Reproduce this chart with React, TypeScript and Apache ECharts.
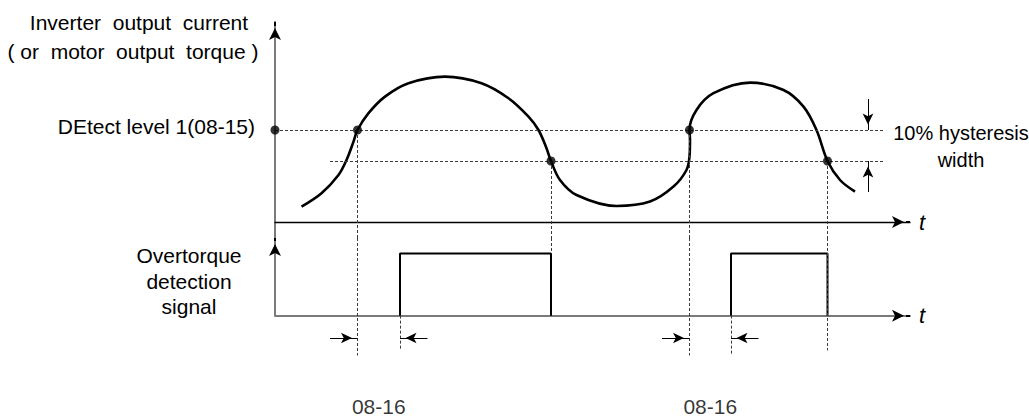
import React, { useEffect, useRef } from "react";
import * as echarts from "echarts";

// ---- axis ranges ----
const T_MAX = 12.7;
const CURRENT_MIN = -8;
const CURRENT_MAX = 100;
const SIGNAL_MIN = -1.6;
const SIGNAL_MAX = 1.25;

// ---- output current (or torque) curve ----
const curveT = [0.53, 0.93, 1.27, 1.43, 1.57, 1.65, 1.87, 2.2, 2.67, 3.4, 4.13, 4.67, 5.07, 5.27, 5.43, 5.52, 5.7, 6.03, 6.83, 7.5, 7.97, 8.23, 8.29, 8.3, 8.29, 8.43, 8.77, 9.5, 10.17, 10.57, 10.83, 11.05, 11.3, 11.6];
const curveI = [7.7, 14.4, 23.5, 31, 40.2, 46, 54.4, 62.7, 69.4, 72.7, 69.4, 61.9, 52.7, 46, 36.9, 30.5, 21, 13.5, 8, 10.2, 17.7, 26, 32.7, 41, 46, 56, 64.4, 69.7, 66, 57.7, 46, 30.5, 21, 15.2];

// ---- levels ----
const DETECT_LEVEL = 46;
const RELEASE_LEVEL = 30.5; // detect level minus 10% hysteresis
const LEVEL_LINE_END = 12.16;
const RELEASE_LINE_START = 1.1;
const HYST_ARROW_T = 11.86;
const HYST_ARROW_TOP = 61.5;
const HYST_ARROW_BOTTOM = 15;

// ---- events ----
const detectT = [1.65, 8.29]; // current rises through detect level
const releaseT = [5.52, 11.05]; // current falls through release level
const pulseOnT = [2.5, 9.12]; // overtorque signal turns on (after 08-16)
const SIGNAL_HIGH = 1;
const detectGuideBottom = [-0.64, -0.64];
const releaseGuideBottom = [1, -0.56];
const pulseGuideBottom = [-0.55, -0.64];
const DIM_ARROW_Y = -0.36;
const DIM_ARROW_LEN = 0.55;
const DELAY_LABEL_Y = -1.47;
const delayLabels = ["08-16", "08-16"];

const FONT = "'Liberation Sans', Arial, sans-serif";
const GUIDE = { color: "#3c3c3c", width: 1, type: [3, 2] as any };
const AXIS_GRAY = "#7a7a7a";

function seg(a: number[], b: number[], extra: any = {}) {
  return [{ coord: a, ...extra }, { coord: b }];
}

function buildOption() {
  const guidesA: any[] = [
    seg([0, DETECT_LEVEL], [LEVEL_LINE_END, DETECT_LEVEL]),
    seg([RELEASE_LINE_START, RELEASE_LEVEL], [LEVEL_LINE_END, RELEASE_LEVEL]),
    ...detectT.map((t) => seg([t, DETECT_LEVEL], [t, CURRENT_MIN])),
    ...releaseT.map((t) => seg([t, RELEASE_LEVEL], [t, CURRENT_MIN])),
  ];
  const guidesB: any[] = [
    ...detectT.map((t, i) => seg([t, SIGNAL_MAX], [t, detectGuideBottom[i]])),
    ...releaseT.map((t, i) => seg([t, SIGNAL_MAX], [t, releaseGuideBottom[i]])),
    ...pulseOnT.map((t, i) => seg([t, 0], [t, pulseGuideBottom[i]])),
  ];
  const dimArrows: any[] = [
    ...detectT.map((t) => seg([t - DIM_ARROW_LEN, DIM_ARROW_Y], [t, DIM_ARROW_Y])),
    ...pulseOnT.map((t) => seg([t + DIM_ARROW_LEN, DIM_ARROW_Y], [t, DIM_ARROW_Y])),
  ];
  const hystArrows: any[] = [
    seg([HYST_ARROW_T, HYST_ARROW_TOP], [HYST_ARROW_T, DETECT_LEVEL]),
    seg([HYST_ARROW_T, HYST_ARROW_BOTTOM], [HYST_ARROW_T, RELEASE_LEVEL]),
  ];
  // black arrow heads at the ends of the axes (short segments under the head)
  const axisHeadsA: any[] = [
    seg([0, CURRENT_MAX - 2], [0, CURRENT_MAX]),
    seg([T_MAX - 0.08, 0], [T_MAX, 0]),
  ];
  const axisHeadsB: any[] = [
    seg([0, SIGNAL_MAX - 0.05], [0, SIGNAL_MAX]),
    seg([T_MAX - 0.08, 0], [T_MAX, 0]),
  ];
  const dots = [
    [0, DETECT_LEVEL],
    ...detectT.map((t) => [t, DETECT_LEVEL]),
    ...releaseT.map((t) => [t, RELEASE_LEVEL]),
  ];
  const arrowMark = (data: any[], color = "#000", width = 1, size = [8, 11]) => ({
    silent: true,
    animation: false,
    symbol: ["none", "arrow"],
    symbolSize: size,
    symbolOffset: [0, [0, "50%"]],
    label: { show: false },
    emphasis: { disabled: true },
    lineStyle: { color, width, type: "solid" },
    data,
  });

  const axisCommon = {
    type: "value",
    axisTick: { show: false },
    axisLabel: { show: false },
    splitLine: { show: false },
  };
  const tName = {
    name: "t",
    nameLocation: "end",
    nameGap: 9,
    nameTextStyle: { fontSize: 22, fontStyle: "italic", fontFamily: FONT, color: "#000" },
  };

  const textStyle = { fontSize: 21, fontFamily: FONT, fill: "#000" };

  return {
    animation: false,
    grid: [
      { left: 275, top: 22, width: 635, height: 216 },
      { left: 275, top: 238, width: 635, height: 177 },
    ],
    xAxis: [
      {
        ...axisCommon,
        ...tName,
        gridIndex: 0,
        min: 0,
        max: T_MAX,
        axisLine: { show: true, onZero: true, lineStyle: { color: "#000", width: 1.3 } },
      },
      {
        ...axisCommon,
        ...tName,
        gridIndex: 1,
        min: 0,
        max: T_MAX,
        axisLine: { show: true, onZero: true, lineStyle: { color: AXIS_GRAY, width: 2 } },
      },
    ],
    yAxis: [
      {
        ...axisCommon,
        gridIndex: 0,
        min: CURRENT_MIN,
        max: CURRENT_MAX,
        axisLine: { show: true, onZero: false, lineStyle: { color: AXIS_GRAY, width: 2 } },
      },
      {
        ...axisCommon,
        gridIndex: 1,
        min: SIGNAL_MIN,
        max: SIGNAL_MAX,
        axisLine: { show: false },
      },
    ],
    series: [
      {
        type: "line",
        xAxisIndex: 0,
        yAxisIndex: 0,
        data: curveT.map((t, i) => [t, curveI[i]]),
        smooth: 0.35,
        showSymbol: false,
        symbol: "none",
        lineStyle: { color: "#000", width: 2.6 },
        silent: true,
        z: 3,
        markLine: {
          silent: true,
          animation: false,
          symbol: ["none", "none"],
          label: { show: false },
          emphasis: { disabled: true },
          lineStyle: GUIDE,
          data: guidesA,
        },
      },
      {
        type: "scatter",
        xAxisIndex: 0,
        yAxisIndex: 0,
        data: dots,
        symbolSize: 9,
        itemStyle: { color: "#000" },
        silent: true,
        z: 5,
        markLine: arrowMark(hystArrows),
      },
      {
        type: "line",
        xAxisIndex: 0,
        yAxisIndex: 0,
        data: [[0, 0]],
        symbol: "none",
        lineStyle: { width: 0 },
        silent: true,
        z: 6,
        markLine: arrowMark(axisHeadsA, "#000", 2, [9, 12]),
      },
      ...pulseOnT.map((on, i) => ({
        type: "line",
        xAxisIndex: 1,
        yAxisIndex: 1,
        data: [
          [on, 0],
          [on, SIGNAL_HIGH],
          [releaseT[i], SIGNAL_HIGH],
          [releaseT[i], 0],
        ],
        symbol: "none",
        lineStyle: { color: "#000", width: 2 },
        silent: true,
        z: 4,
        markLine:
          i === 0
            ? {
                silent: true,
                animation: false,
                symbol: ["none", "none"],
                label: { show: false },
                emphasis: { disabled: true },
                lineStyle: GUIDE,
                data: guidesB,
              }
            : arrowMark(dimArrows),
      })),
      {
        type: "scatter",
        xAxisIndex: 1,
        yAxisIndex: 1,
        data: detectT.map((t, i) => [(t + pulseOnT[i]) / 2, DELAY_LABEL_Y, delayLabels[i]]),
        symbolSize: 1,
        itemStyle: { color: "rgba(0,0,0,0)" },
        silent: true,
        label: {
          show: true,
          position: "inside",
          formatter: (p: any) => p.data[2],
          fontSize: 21,
          fontFamily: FONT,
          color: "#000",
        },
        markLine: {
          silent: true,
          animation: false,
          symbol: ["none", "none"],
          label: { show: false },
          emphasis: { disabled: true },
          lineStyle: { color: AXIS_GRAY, width: 2, type: "solid" },
          data: [seg([0, 0], [0, SIGNAL_MAX])],
        },
      },
      {
        type: "line",
        xAxisIndex: 1,
        yAxisIndex: 1,
        data: [[0, 0]],
        symbol: "none",
        lineStyle: { width: 0 },
        silent: true,
        z: 6,
        markLine: arrowMark(axisHeadsB, "#000", 2, [9, 12]),
      },
    ],
    graphic: [
      {
        type: "text",
        x: 139,
        y: 22,
        style: { ...textStyle, text: "Inverter  output  current", textAlign: "center", textVerticalAlign: "middle" },
      },
      {
        type: "text",
        x: 133,
        y: 51,
        style: { ...textStyle, text: "( or  motor  output  torque )", textAlign: "center", textVerticalAlign: "middle" },
      },
      {
        type: "text",
        x: 255,
        y: 126,
        style: { ...textStyle, text: "DEtect level 1(08-15)", textAlign: "right", textVerticalAlign: "middle" },
      },
      {
        type: "text",
        x: 189,
        y: 281,
        style: {
          ...textStyle,
          text: "Overtorque\ndetection\nsignal",
          textAlign: "center",
          textVerticalAlign: "middle",
          lineHeight: 25.5,
        },
      },
      {
        type: "text",
        x: 961,
        y: 146.5,
        style: {
          ...textStyle,
          fontSize: 20,
          text: "10% hysteresis\nwidth",
          textAlign: "center",
          textVerticalAlign: "middle",
          lineHeight: 27,
        },
      },
    ],
  };
}

export default function App() {
  const ref = useRef<HTMLDivElement>(null);
  useEffect(() => {
    const chart = echarts.init(ref.current!, null, { renderer: "svg" });
    chart.setOption(buildOption() as any);
    return () => chart.dispose();
  }, []);
  return (
    <div
      ref={ref}
      style={{ position: "fixed", left: 0, top: 0, width: 1029, height: 417, background: "#fff" }}
    />
  );
}
